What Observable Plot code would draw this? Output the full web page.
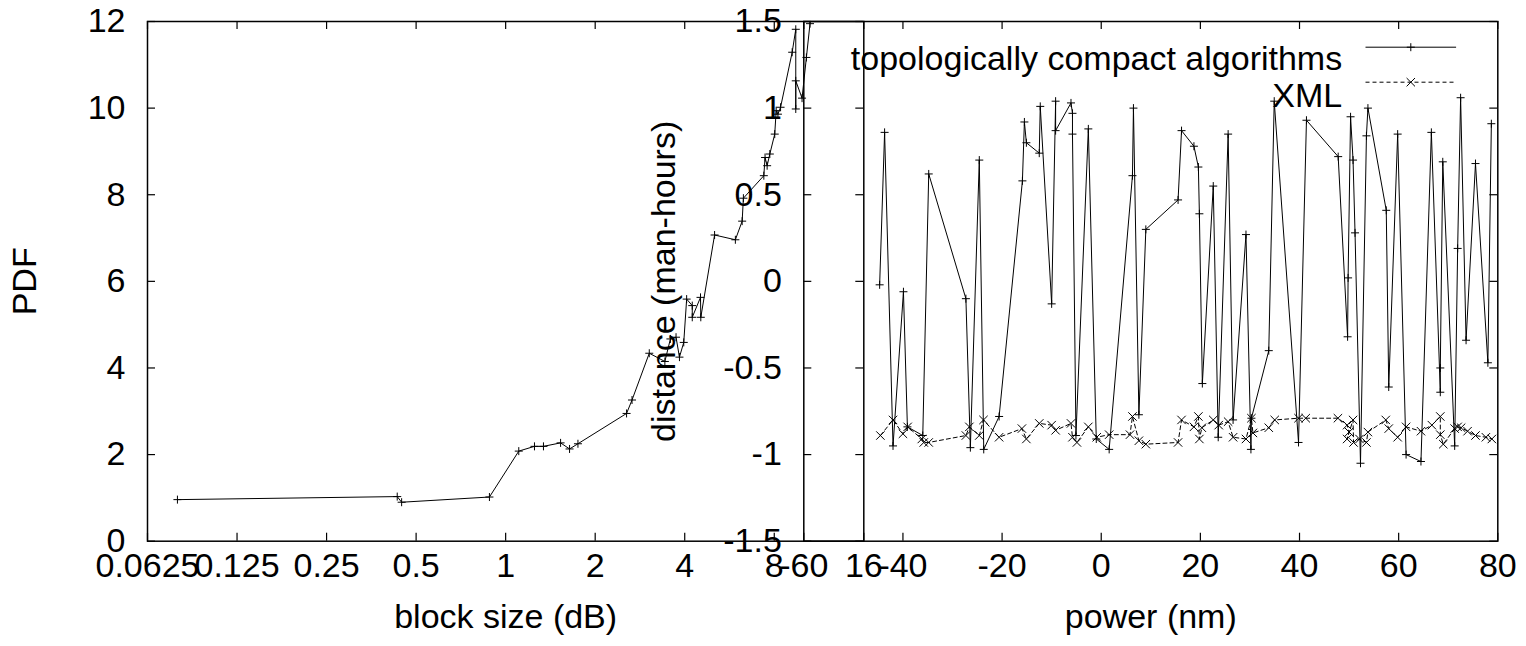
<!DOCTYPE html>
<html><head><meta charset="utf-8">
<script src="https://cdn.jsdelivr.net/npm/d3@7"></script>
<script src="https://cdn.jsdelivr.net/npm/@observablehq/plot@0.6"></script>
<style>
html,body{margin:0;padding:0;background:#fff;overflow:hidden}
#c{position:relative;width:1526px;height:646px;}
#c svg{position:absolute;left:0;top:0;}
</style></head><body><div id="c"></div>
<script>
// ---------- left panel data ----------
const blockSize = [0.0788, 0.432, 0.447, 0.882, 1.107, 1.25, 1.34, 1.53, 1.64, 1.75, 2.55, 2.66, 3.04, 3.43, 3.58, 3.74, 3.84, 3.97, 4.06, 4.24, 4.24, 4.52, 4.53, 5.04, 5.92, 6.24, 6.30, 7.38, 7.45, 7.57, 7.73, 8.03, 8.12, 8.23, 8.40, 9.19, 9.45, 9.45, 9.45, 9.92, 10.26, 10.55, 10.7];
const pdf = [0.96, 1.03, 0.90, 1.02, 2.08, 2.19, 2.19, 2.27, 2.13, 2.25, 2.95, 3.26, 4.34, 4.15, 4.67, 4.71, 4.25, 4.59, 5.59, 5.44, 5.17, 5.63, 5.17, 7.07, 6.96, 7.39, 7.92, 8.44, 8.86, 8.67, 8.94, 9.40, 9.94, 9.86, 10.02, 11.29, 11.82, 9.98, 10.63, 10.23, 11.17, 11.95, 12.8];
const blockTicks = [0.0625, 0.125, 0.25, 0.5, 1, 2, 4, 8, 16];
const blockTickLabels = ["0.0625", "0.125", "0.25", "0.5", "1", "2", "4", "8", "16"];
const pdfTicks = [0, 2, 4, 6, 8, 10, 12];
const pdfTickLabels = ["0", "2", "4", "6", "8", "10", "12"];

// ---------- right panel data ----------
const topoPower = [-44.7, -43.7, -42.0, -39.9, -39.1, -36.0, -34.8, -27.3, -26.4, -24.6, -23.7, -20.6, -15.9, -15.5, -15.1, -12.5, -12.3, -10.0, -9.2, -9.2, -6.1, -5.8, -5.8, -5.1, -2.6, -1.0, 1.6, 6.3, 6.5, 7.6, 9.0, 15.5, 16.2, 18.7, 19.6, 19.8, 20.4, 22.6, 23.6, 25.6, 26.6, 29.2, 30.2, 30.3, 33.8, 34.9, 39.8, 41.4, 47.8, 49.7, 49.8, 50.3, 50.8, 51.2, 52.3, 53.5, 53.8, 57.5, 58.0, 59.8, 61.5, 64.5, 66.6, 68.4, 68.4, 68.9, 71.3, 71.9, 72.5, 73.6, 75.5, 78.0, 78.7];
const topoDist = [-0.02, 0.86, -0.95, -0.06, -0.84, -0.89, 0.62, -0.10, -0.96, 0.70, -0.97, -0.78, 0.58, 0.92, 0.80, 0.74, 1.01, -0.13, 1.04, 0.87, 1.03, 0.97, 0.85, -0.89, 0.88, -0.91, -0.97, 0.61, 1.00, -0.77, 0.30, 0.47, 0.87, 0.78, 0.66, 0.39, -0.59, 0.55, -0.90, 0.85, -0.80, 0.27, -0.97, -0.79, -0.40, 1.04, -0.93, 0.93, 0.72, -0.32, 0.02, 0.95, 0.70, 0.28, -1.05, 0.84, 1.00, 0.41, -0.61, 0.85, -1.00, -1.04, 0.86, -0.64, -0.50, 0.69, -0.95, 0.19, 1.06, -0.34, 0.68, -0.47, 0.91];
const xmlPower = [-44.55, -42.0, -40.0, -39.05, -36.2, -35.8, -34.8, -27.3, -26.6, -24.6, -23.75, -20.6, -16.0, -15.1, -12.5, -10.0, -9.2, -6.1, -5.8, -4.9, -2.6, -0.9, 1.6, 5.8, 6.3, 7.6, 9.0, 15.5, 16.2, 18.7, 19.6, 19.8, 20.3, 22.6, 23.7, 25.6, 26.6, 29.2, 30.3, 30.6, 33.8, 35.0, 39.8, 41.25, 47.75, 49.6, 50.0, 49.6, 50.8, 50.9, 52.1, 53.5, 53.8, 57.4, 58.0, 59.8, 61.5, 64.5, 66.7, 68.4, 68.4, 69.0, 71.3, 71.9, 72.6, 73.9, 75.5, 77.6, 78.8];
const xmlDist = [-0.89, -0.80, -0.88, -0.84, -0.91, -0.93, -0.93, -0.89, -0.84, -0.89, -0.80, -0.90, -0.85, -0.91, -0.82, -0.83, -0.86, -0.82, -0.90, -0.93, -0.84, -0.90, -0.885, -0.885, -0.78, -0.92, -0.94, -0.93, -0.80, -0.84, -0.78, -0.91, -0.845, -0.80, -0.83, -0.81, -0.90, -0.91, -0.79, -0.875, -0.845, -0.80, -0.79, -0.79, -0.79, -0.83, -0.87, -0.91, -0.80, -0.93, -0.91, -0.93, -0.87, -0.80, -0.85, -0.90, -0.84, -0.865, -0.83, -0.78, -0.885, -0.94, -0.85, -0.84, -0.845, -0.865, -0.89, -0.90, -0.91];
const powerTicks = [-60, -40, -20, 0, 20, 40, 60, 80];
const powerTickLabels = ["-60", "-40", "-20", "0", "20", "40", "60", "80"];
const distTicks = [-1.5, -1, -0.5, 0, 0.5, 1, 1.5];
const distTickLabels = ["-1.5", "-1", "-0.5", "0", "0.5", "1", "1.5"];
const seriesNames = ["topologically compact algorithms", "XML"];

// ---------- build ----------
const leftData = blockSize.map((x, i) => ({x, y: pdf[i]}));
const topoData = topoPower.map((x, i) => ({x, y: topoDist[i]}));
const xmlData = xmlPower.map((x, i) => ({x, y: xmlDist[i]}));

const W = 1526, H = 646, mT = 21, mB = 105.3;
const FONT = "'Liberation Sans', Arial, Helvetica, sans-serif";
const FS = 34;
const TICK = 8;
const plus = {draw(c) { const s = 4; c.moveTo(-s, 0); c.lineTo(s, 0); c.moveTo(0, -s); c.lineTo(0, s); }};
const cross = {draw(c) { const s = 4.2; c.moveTo(-s, -s); c.lineTo(s, s); c.moveTo(-s, s); c.lineTo(s, -s); }};
const seg = (h) => ({draw(c) { c.moveTo(-h, 0); c.lineTo(h, 0); }});
const style = {fontFamily: FONT, fontSize: FS + "px", background: "transparent", color: "black", overflow: "visible"};

function panelMarks(xt, xl, yt, yl, frameW, frameH, xTitle, yTitle, yTitleDx) {
  return [
    Plot.tickX(xt, {x: d => d, insetTop: frameH - TICK, stroke: "black", strokeWidth: 1.2}),
    Plot.tickX(xt, {x: d => d, insetBottom: frameH - TICK, stroke: "black", strokeWidth: 1.2}),
    Plot.tickY(yt, {y: d => d, insetRight: frameW - TICK, stroke: "black", strokeWidth: 1.2}),
    Plot.tickY(yt, {y: d => d, insetLeft: frameW - TICK, stroke: "black", strokeWidth: 1.2}),
    Plot.frame({stroke: "black", strokeWidth: 1.5}),
    Plot.text(xt, {x: d => d, text: (d, i) => xl[i], frameAnchor: "bottom", dy: 35.6, textAnchor: "middle", fontSize: FS, fill: "black"}),
    Plot.text(yt, {y: d => d, text: (d, i) => yl[i], frameAnchor: "left", dx: -22, textAnchor: "end", fontSize: FS, fill: "black"}),
    Plot.text([xTitle], {x: null, y: null, text: d => d, frameAnchor: "bottom", dy: 87, textAnchor: "middle", fontSize: FS, fill: "black"}),
    Plot.text([yTitle], {x: null, y: null, text: d => d, frameAnchor: "left", dx: yTitleDx, rotate: -90, textAnchor: "middle", fontSize: FS, fill: "black"})
  ];
}

const lFrameW = 863.3 - 147, frameH = H - mB - mT;
const left = Plot.plot({
  width: W, height: H,
  marginLeft: 147, marginRight: W - 863.3, marginTop: mT, marginBottom: mB,
  x: {type: "log", base: 2, domain: [0.0625, 16], axis: null},
  y: {domain: [0, 12], axis: null},
  style,
  marks: [
    ...panelMarks(blockTicks, blockTickLabels, pdfTicks, pdfTickLabels, lFrameW, frameH, "block size (dB)", "PDF", -122.5),
    Plot.line(leftData, {x: "x", y: "y", stroke: "black", strokeWidth: 1, clip: true}),
    Plot.dot(leftData, {x: "x", y: "y", symbol: plus, r: 4, stroke: "black", fill: "none", strokeWidth: 1, clip: true})
  ]
});

const rLeft = 803.3, rRight = 1497.3, rFrameW = rRight - rLeft;
const right = Plot.plot({
  width: W, height: H,
  marginLeft: rLeft, marginRight: W - rRight, marginTop: mT, marginBottom: mB,
  x: {domain: [-60, 80], axis: null},
  y: {domain: [-1.5, 1.5], axis: null},
  style,
  marks: [
    ...panelMarks(powerTicks, powerTickLabels, distTicks, distTickLabels, rFrameW, frameH, "power (nm)", "distance (man-hours)", -139.5),
    Plot.line(xmlData, {x: "x", y: "y", stroke: "black", strokeWidth: 1, strokeDasharray: "4,3"}),
    Plot.dot(xmlData, {x: "x", y: "y", symbol: cross, r: 4, stroke: "black", fill: "none", strokeWidth: 1}),
    Plot.line(topoData, {x: "x", y: "y", stroke: "black", strokeWidth: 1}),
    Plot.dot(topoData, {x: "x", y: "y", symbol: plus, r: 4, stroke: "black", fill: "none", strokeWidth: 1}),
    // legend
    Plot.text([seriesNames[0]], {x: null, y: null, text: d => d, frameAnchor: "top-right", dx: -155.6, dy: 24.4, textAnchor: "end", fontSize: FS, fill: "black"}),
    Plot.text([seriesNames[1]], {x: null, y: null, text: d => d, frameAnchor: "top-right", dx: -155.6, dy: 61.6, textAnchor: "end", fontSize: FS, fill: "black"}),
    Plot.dot([0], {x: null, y: null, frameAnchor: "top-right", dx: -87, dy: 25.7, symbol: seg(45.3), r: 5, stroke: "black", fill: "none", strokeWidth: 1}),
    Plot.dot([0], {x: null, y: null, frameAnchor: "top-right", dx: -87, dy: 25.7, symbol: plus, r: 4, stroke: "black", fill: "none", strokeWidth: 1}),
    Plot.dot([0], {x: null, y: null, frameAnchor: "top-right", dx: -87, dy: 60.7, symbol: seg(45.3), r: 5, stroke: "black", fill: "none", strokeWidth: 1, strokeDasharray: "4,3"}),
    Plot.dot([0], {x: null, y: null, frameAnchor: "top-right", dx: -87, dy: 60.7, symbol: cross, r: 4, stroke: "black", fill: "none", strokeWidth: 1})
  ]
});

const c = document.getElementById("c");
c.appendChild(left);
c.appendChild(right);
</script></body></html>
